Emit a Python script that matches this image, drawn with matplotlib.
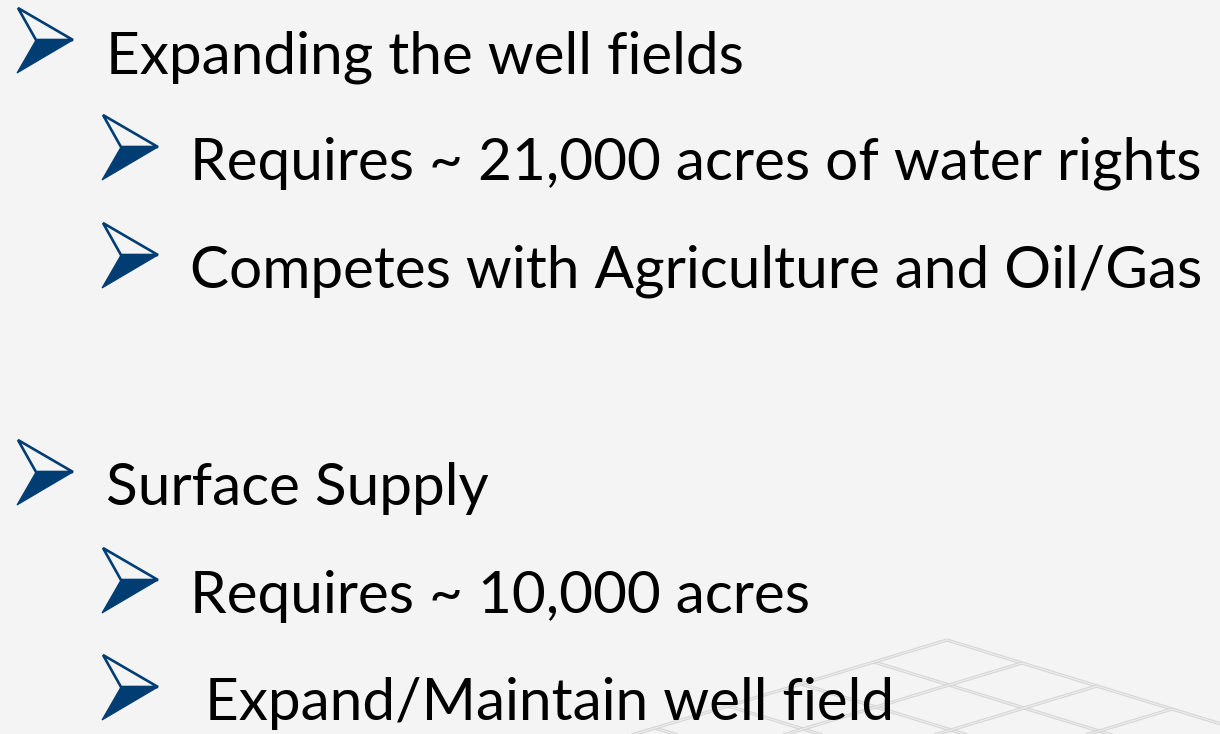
import matplotlib
matplotlib.use("Agg")
import matplotlib.pyplot as plt
from matplotlib.patches import Polygon

# ---- content ----
bullet_texts = [
    "Expanding the well fields",
    "Requires ~ 21,000 acres of water rights",
    "Competes with Agriculture and Oil/Gas",
    "Surface Supply",
    "Requires ~ 10,000 acres",
    " Expand/Maintain well field",
]
bullet_levels = [0, 1, 1, 0, 1, 1]
bullet_baselines = [73, 180, 288, 505, 613, 720]

W, H = 1220, 734
BG = "#f4f4f4"
BLUE = "#003d73"
FONT = ["Lato", "DejaVu Sans"]

fig = plt.figure(figsize=(W / 100, H / 100), dpi=100, facecolor=BG)
ax = fig.add_axes([0, 0, 1, 1])
ax.set_xlim(0, W)
ax.set_ylim(H, 0)
ax.axis("off")
ax.set_facecolor(BG)

# ---- decorative rhombic grid (bottom right) ----
ox, oy = 947, 640
a = (75, 23)
b = (-73, 22)
L = 40
for k in range(0, 14):
    sx, sy = ox + k * b[0], oy + k * b[1]
    ex, ey = sx + L * a[0], sy + L * a[1]
    for lw, c in ((2.4, "#d6d6d6"), (0.8, "#eeeeee")):
        ax.plot([sx, ex], [sy, ey], color=c, lw=lw, solid_capstyle="butt", zorder=1)
for k in range(0, 14):
    sx, sy = ox + k * a[0], oy + k * a[1]
    ex, ey = sx + L * b[0], sy + L * b[1]
    for lw, c in ((2.4, "#d6d6d6"), (0.8, "#eeeeee")):
        ax.plot([sx, ex], [sy, ey], color=c, lw=lw, solid_capstyle="butt", zorder=1)

# ---- arrow bullets ----
def arrow(x0, yc):
    top = (x0 + 1, yc - 32)
    tip = (x0 + 56, yc)
    bot = (x0, yc + 33)
    notch = (x0 + 19, yc)
    ax.add_patch(Polygon([notch, tip, bot], closed=True, facecolor=BLUE,
                         edgecolor=BLUE, lw=0.8, zorder=3))
    ax.add_patch(Polygon([top, tip, notch], closed=True, facecolor="none",
                         edgecolor=BLUE, lw=1.9, joinstyle="miter", zorder=3))

level_arrow_x = [17, 102]
level_text_x = [106, 190]

# fit font size so the longest line matches the reference width
fig.canvas.draw()
r = fig.canvas.get_renderer()
probe = ax.text(0, 0, bullet_texts[1], fontsize=40, family=FONT)
wpx = probe.get_window_extent(renderer=r).width
probe.remove()
fs = 40 * 1012 / wpx

for txt, lev, base in zip(bullet_texts, bullet_levels, bullet_baselines):
    arrow(level_arrow_x[lev], base - 33)
    ax.text(level_text_x[lev], base, txt, fontsize=fs, family=FONT,
            color="black", va="baseline", ha="left", zorder=4)

fig.savefig("out.png", dpi=100, facecolor=BG)
